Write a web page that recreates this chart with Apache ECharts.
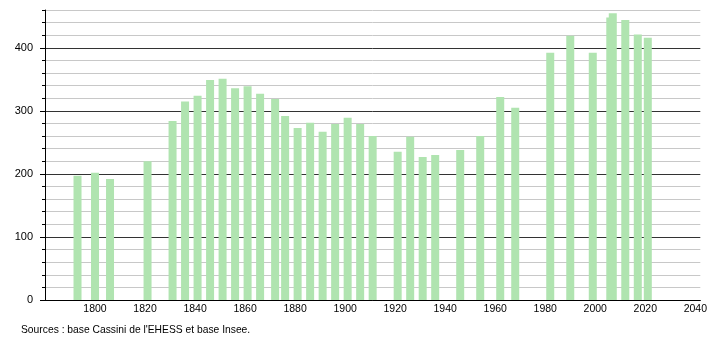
<!DOCTYPE html>
<html>
<head>
<meta charset="utf-8">
<script src="https://cdn.jsdelivr.net/npm/echarts@6/dist/echarts.min.js"></script>
<style>
html,body{margin:0;padding:0;background:#fff;}
#c{width:710px;height:340px;}
</style>
</head>
<body>
<div id="c"></div>
<script>
const years = [1793,1800,1806,1821,1831,1836,1841,1846,1851,1856,1861,1866,1872,1876,1881,1886,1891,1896,1901,1906,1911,1921,1926,1931,1936,1946,1954,1962,1968,1982,1990,1999,2006,2007,2012,2017,2021];
const population = [197,202,192,220,284,315,324,349,351,336,339,327,319,292,273,281,267,279,289,279,260,235,259,227,230,238,260,322,305,392,419,392,448,455,444,421,416];
const sourceText = "Sources : base Cassini de l'EHESS et base Insee.";

const font = 'Liberation Sans, Arial, sans-serif';
const chart = echarts.init(document.getElementById('c'));
chart.setOption({
  animation: false,
  backgroundColor: '#fff',
  grid: [
    {left: 45, width: 656, top: 10, height: 290},
    {left: 45, width: 656, top: 48, height: 252}
  ],
  xAxis: [
    {
      type: 'value', gridIndex: 0, min: 1780, max: 2042, interval: 20,
      axisLine: {show: true, onZero: false, lineStyle: {color: '#000', width: 1}},
      axisTick: {show: false},
      splitLine: {show: false},
      axisLabel: {showMinLabel: false, showMaxLabel: false, color: '#000', fontSize: 10.5, fontFamily: font, margin: 4,
        formatter: v => String(v)}
    },
    {type: 'value', gridIndex: 1, min: 1780, max: 2042, show: false}
  ],
  yAxis: [
    {
      type: 'value', gridIndex: 0, min: 0, max: 460, interval: 20,
      axisLine: {show: true, lineStyle: {color: '#000', width: 1}},
      axisTick: {show: true, length: 3, lineStyle: {color: '#000'}},
      axisLabel: {show: false},
      splitLine: {show: true, lineStyle: {color: ['#333', '#c8c8c8', '#c8c8c8', '#c8c8c8', '#c8c8c8'], width: 1}}
    },
    {
      type: 'value', gridIndex: 1, min: 0, max: 400, interval: 100,
      axisLine: {show: false},
      axisTick: {show: true, length: 5, lineStyle: {color: '#000'}},
      axisLabel: {color: '#000', fontSize: 11, fontFamily: font, margin: 12},
      splitLine: {show: false}
    }
  ],
  series: [{
    type: 'bar',
    xAxisIndex: 0, yAxisIndex: 0,
    barWidth: 8,
    itemStyle: {color: '#b0e4b0'},
    data: years.map((y, i) => [y, population[i]])
  }],
  graphic: [{
    type: 'text', left: 21, top: 325,
    style: {text: sourceText, fill: '#000', font: '10.3px ' + font}
  }]
});
</script>
</body>
</html>
